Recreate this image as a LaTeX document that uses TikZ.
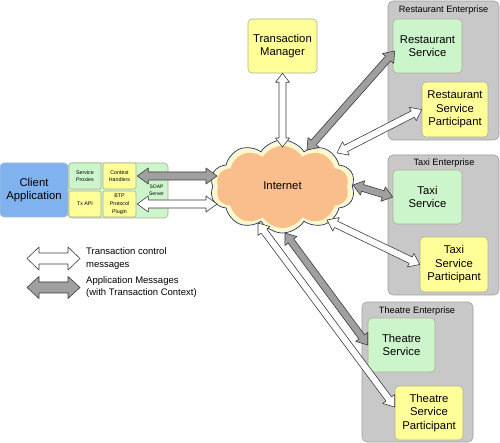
\documentclass[tikz,border=0pt]{standalone}
\usepackage{fontspec}
\setmainfont{Liberation Sans}
\usetikzlibrary{calc,shapes.symbols}
\definecolor{cblue}{RGB}{128,178,240}
\definecolor{cgreen}{RGB}{204,245,204}
\definecolor{cyellow}{RGB}{255,255,153}
\definecolor{boxline}{RGB}{175,175,150}
\definecolor{cgray}{RGB}{200,200,200}
\definecolor{entline}{RGB}{160,160,160}
\definecolor{cloudrim}{RGB}{255,248,205}
\definecolor{cloudin}{RGB}{250,190,140}
\definecolor{cloudline}{RGB}{30,50,120}
\definecolor{arrgray}{RGB}{160,160,160}
\definecolor{arrline}{RGB}{60,60,60}
\tikzset{
  box/.style={rectangle, rounded corners=4pt, draw=boxline, line width=0.6pt, inner sep=1pt, align=center, font=\fontsize{11.3}{13.5}\selectfont},
  ybox/.style={box, fill=cyellow},
  gbox/.style={box, fill=cgreen},
  sbox/.style={box, rounded corners=2pt, font=\fontsize{5.3}{6.5}\selectfont},
  ent/.style={rectangle, rounded corners=5pt, draw=entline, fill=cgray, line width=0.6pt},
  entlabel/.style={inner sep=0pt, font=\fontsize{9.2}{11}\selectfont},
  legtext/.style={inner sep=0pt, anchor=west, align=left, font=\fontsize{9.5}{12.5}\selectfont},
  sz/.style 2 args={minimum width=#1pt, minimum height=#2pt},
  farrow/.style={draw=arrline, line width=0.6pt, line join=round}
}
% fat double arrow: from #1 to #2, fill #3, shaft half width #4, head half width #5, head length #6
\newcommand\fatarr[6]{%
  \draw[farrow, fill=#3] let \p1=(#1), \p2=(#2), \n1={atan2(\y2-\y1,\x2-\x1)}, \n3={\n1+90} in
    (\p1) -- ($(\p1)+(\n1:#6)+(\n3:#5)$) -- ($(\p1)+(\n1:#6)+(\n3:#4)$)
    -- ($(\p2)-(\n1:#6)+(\n3:#4)$) -- ($(\p2)-(\n1:#6)+(\n3:#5)$) -- (\p2)
    -- ($(\p2)-(\n1:#6)-(\n3:#5)$) -- ($(\p2)-(\n1:#6)-(\n3:#4)$)
    -- ($(\p1)+(\n1:#6)-(\n3:#4)$) -- ($(\p1)+(\n1:#6)-(\n3:#5)$) -- cycle;}
\begin{document}
\begin{tikzpicture}[x=1pt,y=-1pt]
\useasboundingbox[fill=white] (0,0) rectangle (500,443);
% enterprises
\node[ent, sz={111}{139}] (rent) at (443.5,70.5) {};
\node[entlabel] (rentl) at (443.5,10) {Restaurant Enterprise};
\node[ent, sz={111}{140}] (tent) at (443.5,225) {};
\node[entlabel] (tentl) at (444,163) {Taxi Enterprise};
\node[ent, sz={111}{140}] (thent) at (417.5,372) {};
\node[entlabel] (thentl) at (417,311) {Theatre Enterprise};
% services
\node[gbox, sz={69}{54}] (rs) at (427.5,46) {Restaurant\\Service};
\node[ybox, sz={66}{55}] (rsp) at (455,109.5) {Restaurant\\Service\\Participant};
\node[gbox, sz={69}{54}] (ts) at (427.5,197) {Taxi\\Service};
\node[ybox, sz={68}{55}] (tsp) at (454,264.5) {Taxi\\Service\\Participant};
\node[gbox, sz={67}{54}] (ths) at (401.5,345) {Theatre\\Service};
\node[ybox, sz={68}{54}] (thsp) at (429,413) {Theatre\\Service\\Participant};
% transaction manager
\node[ybox, sz={69}{54}] (tm) at (282.5,46) {Transaction\\Manager};
% client side
\node[box, fill=cblue, draw=cblue!80!black!60, sz={68}{54}, font=\fontsize{11.3}{13}\selectfont] (client) at (34,190) {Client\\Application};
\node[gbox, sz={100}{55}] (soap) at (118,190.5) {};
\node[gbox, sbox, sz={32}{26}] (proxies) at (85,176) {Service\\Proxies};
\node[ybox, sbox, sz={33}{26}] (ctx) at (119.5,176) {Context\\Handlers};
\node[ybox, sbox, sz={32}{26}] (txapi) at (85,204) {Tx API};
\node[ybox, sbox, sz={33}{26}, font=\fontsize{5.3}{8}\selectfont] (btp) at (119.5,204) {BTP\\Protocol\\Plugin};
\node[inner sep=0pt, align=center, font=\fontsize{5}{6.8}\selectfont] (soapl) at (156.5,190) {SOAP\\Server};
% cloud
\node[cloud, cloud puffs=10, cloud puff arc=115, aspect=1.6, draw=cloudline, line width=0.7pt, fill=cloudrim, minimum width=145pt, minimum height=93pt, inner sep=0pt] (net) at (282.5,186.5) {};
\node[cloud, cloud puffs=10, cloud puff arc=115, aspect=1.6, fill=cloudin, minimum width=133pt, minimum height=82pt, inner sep=0pt] (netin) at (282.5,187) {};
\node[font=\fontsize{11.3}{13}\selectfont, inner sep=0pt] (netl) at (282.5,186) {Internet};
% cloud-side ends
\coordinate (cSoapA) at (217,176);
\coordinate (cSoapB) at (217,204);
\coordinate (cTm) at (282.5,147);
\coordinate (cRs) at (307,150);
\coordinate (cRsp) at (337,153);
\coordinate (cTs) at (353,185);
\coordinate (cTsp) at (327,220);
\coordinate (cThs) at (285,233);
\coordinate (cThsp) at (258,223);
% arrows
\fatarr{$(ctx.east)+(1,0)$}{cSoapA}{arrgray}{4pt}{8pt}{11pt}
\fatarr{$(btp.east)+(1,0)$}{cSoapB}{white}{4pt}{8pt}{11pt}
\fatarr{tm.south}{cTm}{white}{3.5pt}{7pt}{9pt}
\fatarr{cRs}{$(rs.west)+(2,5)$}{arrgray}{3.5pt}{7.5pt}{10pt}
\fatarr{cRsp}{rsp.west}{white}{3.5pt}{7.5pt}{10pt}
\fatarr{cTs}{ts.west}{arrgray}{3.5pt}{7.5pt}{10pt}
\fatarr{cTsp}{tsp.west}{white}{3.5pt}{7.5pt}{10pt}
\fatarr{cThs}{ths.west}{arrgray}{3.5pt}{7.5pt}{10pt}
\fatarr{cThsp}{$(thsp.west)+(0,-6)$}{white}{3.5pt}{7.5pt}{10pt}
% legend
\coordinate (lwA) at (27,258.5);
\coordinate (lwB) at (80,258.5);
\coordinate (lgA) at (27,287.5);
\coordinate (lgB) at (80,287.5);
\fatarr{lwA}{lwB}{white}{5.5pt}{11.5pt}{12pt}
\fatarr{lgA}{lgB}{arrgray}{5.5pt}{11pt}{12pt}
\node[legtext] (lw) at (86,258.5) {Transaction control\\messages};
\node[legtext] (lg) at (86,287) {Application Messages\\(with Transaction Context)};
\end{tikzpicture}
\end{document}
